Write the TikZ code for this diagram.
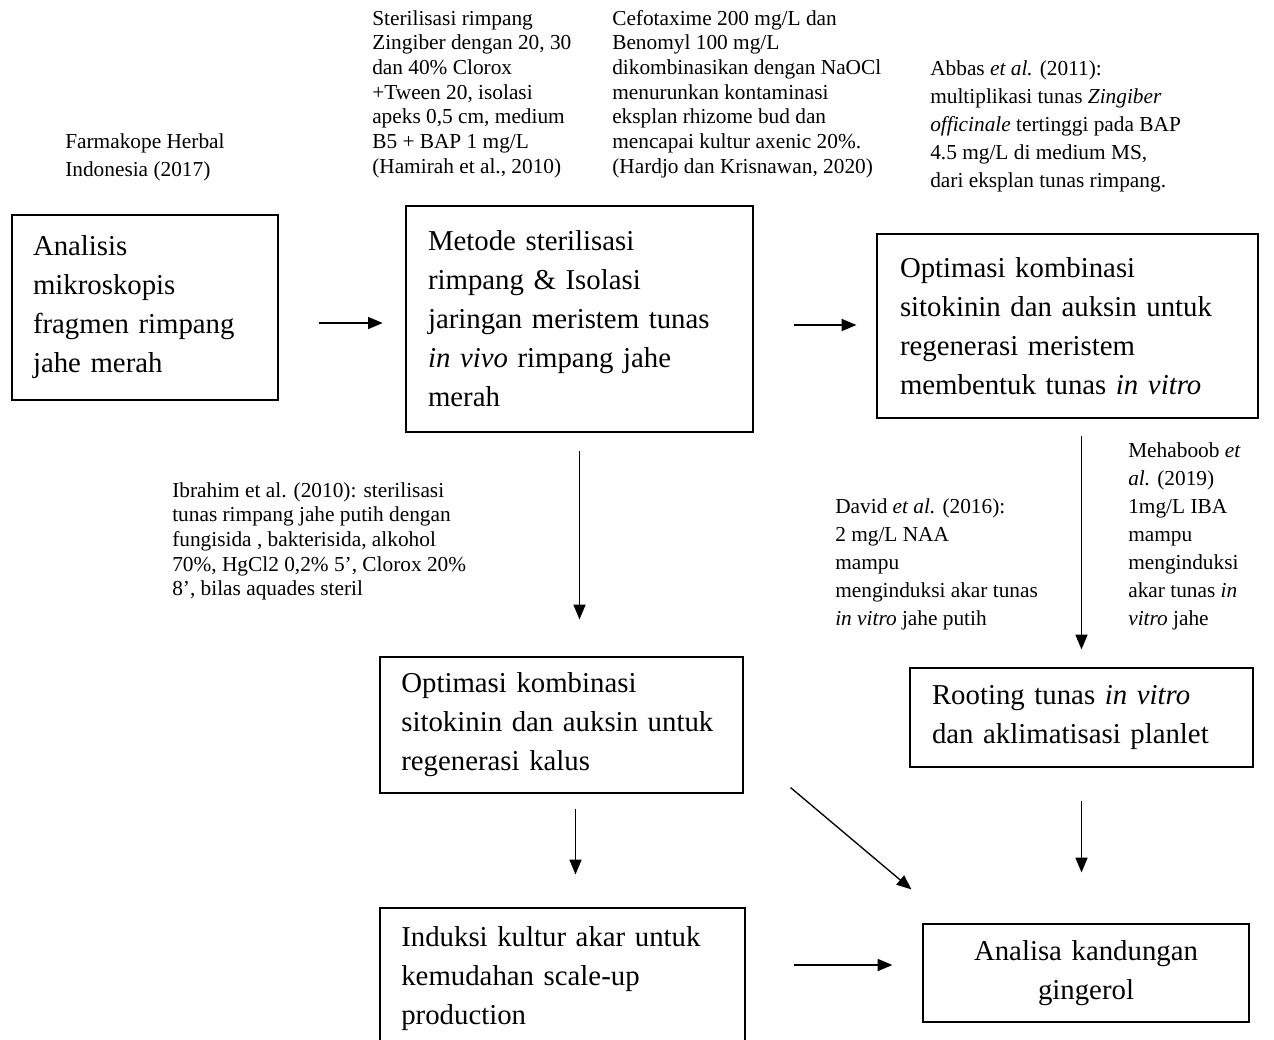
\documentclass[tikz,border=0pt]{standalone}
\usepackage{fontspec}
\setmainfont{Liberation Serif}
\usetikzlibrary{arrows.meta,calc}

\begin{document}
\begin{tikzpicture}[x=0.75pt,y=-0.75pt,
  stage/.style={draw, line width=0.9pt, align=left, inner ysep=0pt,
    font=\fontsize{21.6}{29.25}\selectfont},
  refnote/.style={anchor=north west, inner sep=0pt, align=left,
    font=\fontsize{16}{18.5}\selectfont},
  refwide/.style={refnote, font=\fontsize{16}{21}\selectfont},
  flow/.style={-{Triangle[length=11pt,width=9pt]}, line width=1pt}]
  \useasboundingbox (0,0) rectangle (1274,1039);

  % Stages
  \node[stage, minimum height=138.75pt, text width=168pt, inner xsep=15.75pt]
    (analisis) at (145,307.5) {Analisis\\mikroskopis\\fragmen rimpang\\jahe merah};
  \node[stage, minimum height=169.5pt, text width=227.25pt, inner xsep=16.5pt]
    (steril) at (579.5,319) {Metode sterilisasi\\rimpang \& Isolasi\\jaringan meristem tunas\\\textit{in vivo} rimpang jahe\\merah};
  \node[stage, minimum height=138pt, text width=251.25pt, inner xsep=17.25pt]
    (tunas) at (1067.5,326) {Optimasi kombinasi\\sitokinin dan auksin untuk\\regenerasi meristem\\membentuk tunas \textit{in vitro}};
  \node[stage, minimum height=102pt, text width=240.25pt, inner xsep=16pt]
    (kalus) at (561.5,725) {Optimasi kombinasi\\sitokinin dan auksin untuk\\regenerasi kalus};
  \node[stage, minimum height=106.5pt, text width=241.75pt, inner xsep=16pt]
    (akar) at (562.5,979) {Induksi kultur akar untuk\\kemudahan scale-up\\production};
  \node[stage, minimum height=74.25pt, text width=224.25pt, inner xsep=16.5pt]
    (rooting) at (1081.5,717.5) {Rooting tunas \textit{in vitro}\\dan aklimatisasi planlet};
  \node[stage, align=center, minimum height=73.5pt, text width=244.5pt, inner xsep=0pt]
    (gingerol) at (1086,973) {Analisa kandungan\\gingerol};

  % References
  \node[refwide] (farmakope) at (65,133) {Farmakope Herbal\\Indonesia (2017)};
  \node[refnote] (hamirah) at (372,10) {Sterilisasi rimpang\\Zingiber dengan 20, 30\\dan 40\% Clorox\\+Tween 20, isolasi\\apeks 0,5 cm, medium\\B5 + BAP 1 mg/L\\(Hamirah et al., 2010)};
  \node[refnote] (hardjo) at (612,10) {Cefotaxime 200 mg/L dan\\Benomyl 100 mg/L\\dikombinasikan dengan NaOCl\\menurunkan kontaminasi\\eksplan rhizome bud dan\\mencapai kultur axenic 20\%.\\(Hardjo dan Krisnawan, 2020)};
  \node[refwide] (abbas) at (930,60) {Abbas \textit{et al.} (2011):\\multiplikasi tunas \textit{Zingiber}\\\textit{officinale} tertinggi pada BAP\\4.5 mg/L di medium MS,\\dari eksplan tunas rimpang.};
  \node[refnote] (ibrahim) at (172,482) {Ibrahim et al. (2010): sterilisasi\\tunas rimpang jahe putih dengan\\fungisida , bakterisida, alkohol\\70\%, HgCl2 0,2\% 5’, Clorox 20\%\\8’, bilas aquades steril};
  \node[refwide] (david) at (835,498) {David \textit{et al.} (2016):\\2 mg/L NAA\\mampu\\menginduksi akar tunas\\\textit{in vitro} jahe putih};
  \node[refwide] (mehaboob) at (1128,442) {Mehaboob \textit{et}\\\textit{al.} (2019)\\1mg/L IBA\\mampu\\menginduksi\\akar tunas \textit{in}\\\textit{vitro} jahe};

  % Flow
  \draw[flow, shorten <=30pt, shorten >=17pt] (analisis.east |- 0,323) -- (steril.west |- 0,323);
  \draw[flow, shorten <=30pt, shorten >=15pt] (steril.east |- 0,325) -- (tunas.west |- 0,325);
  \draw[flow, shorten <=13.5pt, shorten >=27.75pt] (steril.south) -- (steril.south |- kalus.north);
  \draw[flow, shorten <=12.75pt, shorten >=13.5pt] (rooting.north |- tunas.south) -- (rooting.north);
  \draw[flow, shorten <=24.75pt, shorten >=38.25pt] (rooting.south) -- (rooting.south |- gingerol.north);
  \draw[flow, shorten <=11.25pt, shorten >=24.75pt] ([xshift=10.5pt]kalus.south) -- ([xshift=10.5pt]kalus.south |- akar.north);
  \draw[flow] ($(kalus.south east)+(47,-6)$) -- ($(gingerol.north west)+(-11,-34)$);
  \draw[flow, shorten <=36pt, shorten >=22.5pt] ([yshift=6pt]akar.east |- gingerol.west) -- ([yshift=6pt]gingerol.west);
\end{tikzpicture}
\end{document}
